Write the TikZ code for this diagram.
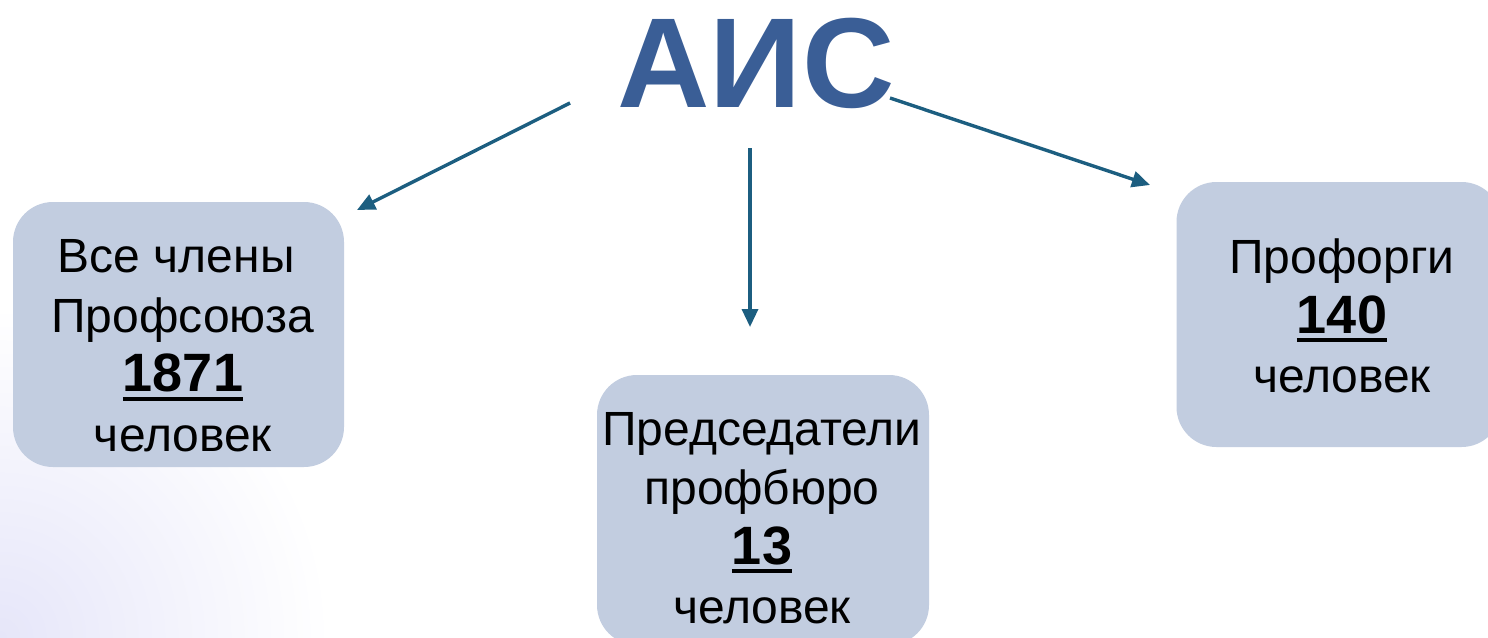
\documentclass[tikz,border=0pt]{standalone}
\usepackage{fontspec}
\setmainfont{Liberation Sans}
\usetikzlibrary{arrows.meta}
\definecolor{boxfill}{RGB}{194,205,224}
\definecolor{arrowcol}{RGB}{28,94,128}
\definecolor{titlecol}{RGB}{58,94,150}
\definecolor{lav}{RGB}{230,230,249}
\newcommand\ulnum[1]{\setbox0\hbox{\fontsize{54pt}{59.5pt}\selectfont\bfseries #1}\rlap{\rule[-9pt]{\wd0}{4pt}}\box0}
\tikzset{
  box/.style={fill=boxfill, rounded corners=40pt, minimum width=332pt, minimum height=265pt, inner sep=0pt},
  lbl/.style={align=center, font=\fontsize{48pt}{59.5pt}\selectfont, inner sep=0pt, anchor=center},
  conn/.style={draw=arrowcol, line width=3.4pt, -{Triangle[length=18pt,width=16pt]}}
}
\begin{document}
\begin{tikzpicture}[x=1pt,y=-1pt]
\useasboundingbox (0,0) rectangle (1488,637);
\fill[white] (0,0) rectangle (1488,637);
\shade[inner color=lav, outer color=white] (0,637) circle (330);
\node[box, minimum width=331pt, minimum height=265pt] (bL) at (178.5,334.5) {};
\node[box, minimum width=332pt, minimum height=270pt] (bM) at (763,510) {};
\node[box, minimum width=325pt, minimum height=265pt] (bR) at (1339,314.5) {};
\node[lbl] (tL) at (183,345.5) {Все члены\kern13.3pt\\Профсоюза\\\ulnum{1871}\\человек};
\node[lbl] (tM) at (762,518.3) {Председатели\\профбюро\\\ulnum{13}\\человек};
\node[lbl] (tR) at (1342,316) {Профорги\\\ulnum{140}\\человек};
\node[anchor=base, inner sep=0pt, text=titlecol, font=\fontsize{128pt}{130pt}\selectfont\bfseries] (title) at (756,107) {АИС};
\coordinate (sL) at (570,103);
\coordinate (eL) at (357,210);
\coordinate (sM) at (750,148);
\coordinate (eM) at (750,327);
\coordinate (sR) at (890,98);
\coordinate (eR) at (1150,185);
\draw[conn] (sL) -- (eL);
\draw[conn] (sM) -- (eM);
\draw[conn] (sR) -- (eR);
\end{tikzpicture}
\end{document}
